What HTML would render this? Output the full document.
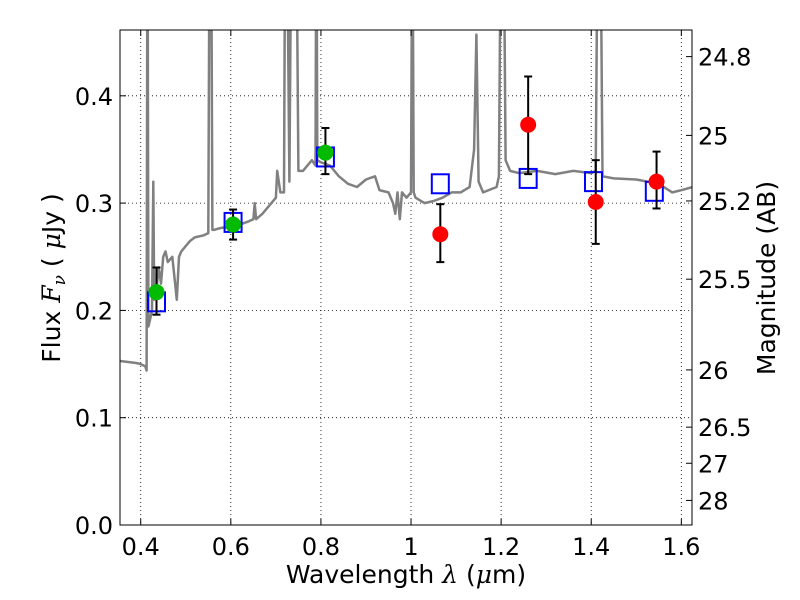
<!DOCTYPE html>
<html><head><meta charset="utf-8"><style>
body{margin:0;background:#fff;}
svg{display:block;font-family:"DejaVu Sans","Liberation Sans",sans-serif;}
</style></head><body>
<svg id="chart" width="800" height="600">
<defs><clipPath id="clip"><rect x="120" y="30" width="572" height="495"/></clipPath></defs>
<rect x="0" y="0" width="800" height="600" fill="#fff"/>
<g id="grid"></g>
<g id="spec" clip-path="url(#clip)"></g>
<g id="marks" clip-path="url(#clip)"></g>
<rect x="120" y="30" width="572" height="495" fill="none" stroke="#000" stroke-width="1"/>
<g id="axes"></g>
<text x="406" y="583" font-size="25" text-anchor="middle">Wavelength  <tspan font-family="DejaVu Serif" font-style="italic">λ</tspan> (<tspan font-family="DejaVu Serif" font-style="italic">μ</tspan>m)</text>
<text transform="translate(60,278) rotate(-90)" font-size="25" text-anchor="middle">Flux  <tspan font-family="DejaVu Serif" font-style="italic">F</tspan><tspan font-family="DejaVu Serif" font-style="italic" font-size="17" dy="5">ν</tspan><tspan dy="-5">  ( </tspan><tspan font-family="DejaVu Serif" font-style="italic">μ</tspan>Jy )</text>
<text transform="translate(775,278) rotate(-90)" font-size="25" text-anchor="middle">Magnitude (AB)</text>
</svg>
<script>
const xTicks=[0.4,0.6,0.8,1.0,1.2,1.4,1.6];
const xTickLabels=["0.4","0.6","0.8","1","1.2","1.4","1.6"];
const yTicks=[0,0.1,0.2,0.3,0.4];
const yTickLabels=["0.0","0.1","0.2","0.3","0.4"];
const magTicks=[24.8,25,25.2,25.5,26,26.5,27,28];
const magTickLabels=["24.8","25","25.2","25.5","26","26.5","27","28"];
const specWl=[0.35,0.37,0.39,0.40,0.41,0.413,0.415,0.417,0.42,0.425,0.428,0.43,0.435,0.44,0.445,0.45,0.455,0.46,0.47,0.48,0.485,0.49,0.50,0.51,0.52,0.54,0.55,0.553,0.556,0.559,0.562,0.57,0.58,0.6,0.62,0.64,0.65,0.653,0.656,0.67,0.69,0.70,0.703,0.71,0.718,0.721,0.724,0.73,0.735,0.74,0.745,0.75,0.76,0.78,0.788,0.79,0.792,0.80,0.82,0.84,0.86,0.88,0.90,0.92,0.93,0.95,0.96,0.965,0.97,0.975,0.98,0.99,1.0,1.003,1.006,1.01,1.03,1.05,1.07,1.09,1.11,1.13,1.14,1.145,1.15,1.16,1.19,1.195,1.2,1.205,1.21,1.22,1.24,1.28,1.32,1.36,1.40,1.41,1.415,1.42,1.425,1.45,1.5,1.55,1.58,1.6,1.625];
const specFlux=[0.153,0.152,0.151,0.15,0.148,0.144,0.6,0.185,0.19,0.2,0.32,0.21,0.22,0.24,0.225,0.25,0.255,0.245,0.25,0.21,0.25,0.255,0.26,0.265,0.268,0.27,0.272,0.6,0.6,0.275,0.275,0.276,0.277,0.278,0.28,0.283,0.285,0.3,0.285,0.29,0.3,0.305,0.33,0.31,0.31,0.6,0.6,0.32,0.6,0.6,0.6,0.33,0.33,0.34,0.335,0.6,0.34,0.338,0.335,0.325,0.318,0.315,0.322,0.325,0.312,0.31,0.3,0.29,0.31,0.285,0.31,0.305,0.31,0.6,0.31,0.305,0.3,0.302,0.305,0.31,0.31,0.315,0.35,0.457,0.32,0.31,0.315,0.325,0.6,0.6,0.34,0.33,0.328,0.33,0.327,0.33,0.328,0.33,0.6,0.6,0.325,0.323,0.322,0.318,0.31,0.312,0.315,0.32];
const photWl=[0.435,0.605,0.81];
const photFlux=[0.217,0.280,0.347];
const photLo=[0.196,0.266,0.327];
const photHi=[0.240,0.294,0.370];
const redWl=[1.065,1.26,1.41,1.545];
const redFlux=[0.271,0.373,0.301,0.320];
const redLo=[0.245,0.327,0.262,0.295];
const redHi=[0.299,0.418,0.340,0.348];
const modelWl=[0.435,0.605,0.81,1.065,1.26,1.405,1.54];
const modelFlux=[0.208,0.282,0.343,0.318,0.323,0.320,0.311];

const X0=120,X1=692,Y0=525,Y1=30,XMIN=0.354,XMAX=1.604+ (692-683)/457.5,YMIN=0,YMAX=(525-30)/1073;
const sx=v=>X0+(v-XMIN)/(XMAX-XMIN)*(X1-X0);
const sy=v=>Y0-(v-YMIN)/(YMAX-YMIN)*(Y0-Y1);
const magToFlux=m=>Math.pow(10,(23.9-m)/2.5);
const NS='http://www.w3.org/2000/svg';
function mk(p,t,a){const e=document.createElementNS(NS,t);for(const k in a)e.setAttribute(k,a[k]);p.appendChild(e);return e;}
const grid=document.getElementById('grid'),axes=document.getElementById('axes'),spec=document.getElementById('spec'),marks=document.getElementById('marks');
xTicks.forEach((v,i)=>{const x=sx(v);
 let g=mk(grid,'line',{x1:x,x2:x,y1:Y1,y2:Y0,stroke:'#000','stroke-width':0.8,'stroke-dasharray':'1,3'});
 
 let t=mk(axes,'line',{x1:x,x2:x,y1:Y0,y2:Y0-6,stroke:'#000'});
 let t2=mk(axes,'line',{x1:x,x2:x,y1:Y1,y2:Y1+6,stroke:'#000'});
 let l=mk(axes,'text',{x:x,y:555,'font-size':24,'text-anchor':'middle'});l.textContent=xTickLabels[i];
 });
yTicks.forEach((v,i)=>{const y=sy(v);
 let g=mk(grid,'line',{x1:X0,x2:X1,y1:y,y2:y,stroke:'#000','stroke-width':0.8,'stroke-dasharray':'1,3'});
 
 let t=mk(axes,'line',{x1:X0,x2:X0+6,y1:y,y2:y,stroke:'#000'});
 let l=mk(axes,'text',{x:113,y:y+9,'font-size':24,'text-anchor':'end'});l.textContent=yTickLabels[i];
 });
magTicks.forEach((m,i)=>{const y=sy(magToFlux(m));
 let t=mk(axes,'line',{x1:X1,x2:X1-6,y1:y,y2:y,stroke:'#000'});
 let l=mk(axes,'text',{x:698,y:y+9,'font-size':24});l.textContent=magTickLabels[i];
 });
let d=specWl.map((w,i)=>(i?'L':'M')+sx(w).toFixed(1)+','+sy(specFlux[i]).toFixed(1)).join('');
let sp=mk(spec,'path',{d:d,fill:'none',stroke:'#808080','stroke-width':2.5,'stroke-linejoin':'round'});

function errbar(x,lo,hi){const g=mk(marks,'g',{stroke:'#000','stroke-width':2});
 
 mk(g,'line',{x1:x,x2:x,y1:sy(lo),y2:sy(hi)});mk(g,'line',{x1:x-4,x2:x+4,y1:sy(lo),y2:sy(lo)});mk(g,'line',{x1:x-4,x2:x+4,y1:sy(hi),y2:sy(hi)});}
modelWl.forEach((w,i)=>{let r=mk(marks,'rect',{x:sx(w)-8.5,y:sy(modelFlux[i])-9.5,width:17,height:19,fill:'none',stroke:'#0000ff','stroke-width':2});
 });
photWl.forEach((w,i)=>{errbar(sx(w),photLo[i],photHi[i]);
 let c=mk(marks,'circle',{cx:sx(w),cy:sy(photFlux[i]),r:8,fill:'#00bb00'});
 });
redWl.forEach((w,i)=>{errbar(sx(w),redLo[i],redHi[i]);
 let c=mk(marks,'circle',{cx:sx(w),cy:sy(redFlux[i]),r:8,fill:'#ff0000'});
 });
</script>
</body></html>
